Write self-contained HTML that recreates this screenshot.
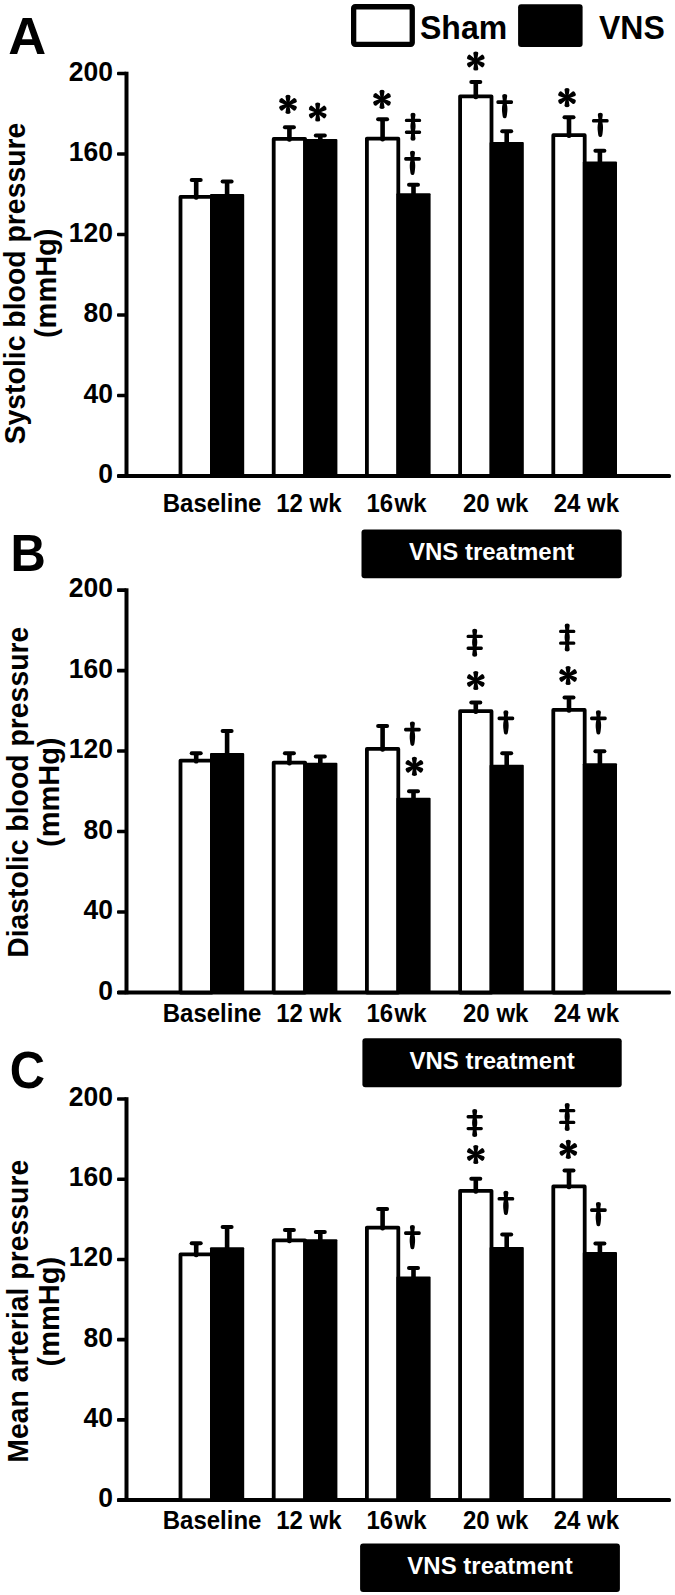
<!DOCTYPE html><html><head><meta charset="utf-8"><style>html,body{margin:0;padding:0;background:#fff;overflow:hidden}svg{display:block}</style></head><body><svg width="675" height="1595" viewBox="0 0 675 1595">
<rect width="675" height="1595" fill="#fff"/>
<rect x="353.65" y="6.75" width="58.6" height="37.6" rx="1.5" fill="none" stroke="#000" stroke-width="5.3"/>
<text transform="translate(420,39.3) scale(1,1.06)" font-family='"Liberation Sans", sans-serif' font-weight="bold" font-size="32">Sham</text>
<rect x="518.1" y="4.3" width="64.5" height="42.8" rx="3" fill="#000"/>
<text transform="translate(599,39) scale(1,1.04)" font-family='"Liberation Sans", sans-serif' font-weight="bold" font-size="32">VNS</text>
<text transform="translate(8.3,53.7) scale(1.02,1)" font-family='"Liberation Sans", sans-serif' font-weight="bold" font-size="51.5">A</text>
<rect x="124.5" y="71.7" width="4" height="406.1" fill="#000"/>
<rect x="117" y="474" width="554" height="4" rx="1.5" fill="#000"/>
<rect x="117" y="474.2" width="9.5" height="3.6" rx="1" fill="#000"/>
<text transform="translate(113,483.0) scale(1,1.07)" text-anchor="end" font-family='"Liberation Sans", sans-serif' font-weight="bold" font-size="26.5">0</text>
<rect x="117" y="393.7" width="9.5" height="3.6" rx="1" fill="#000"/>
<text transform="translate(113,402.5) scale(1,1.07)" text-anchor="end" font-family='"Liberation Sans", sans-serif' font-weight="bold" font-size="26.5">40</text>
<rect x="117" y="313.2" width="9.5" height="3.6" rx="1" fill="#000"/>
<text transform="translate(113,322.0) scale(1,1.07)" text-anchor="end" font-family='"Liberation Sans", sans-serif' font-weight="bold" font-size="26.5">80</text>
<rect x="117" y="232.7" width="9.5" height="3.6" rx="1" fill="#000"/>
<text transform="translate(113,241.5) scale(1,1.07)" text-anchor="end" font-family='"Liberation Sans", sans-serif' font-weight="bold" font-size="26.5">120</text>
<rect x="117" y="152.2" width="9.5" height="3.6" rx="1" fill="#000"/>
<text transform="translate(113,161.0) scale(1,1.07)" text-anchor="end" font-family='"Liberation Sans", sans-serif' font-weight="bold" font-size="26.5">160</text>
<rect x="117" y="71.7" width="9.5" height="3.6" rx="1" fill="#000"/>
<text transform="translate(113,80.5) scale(1,1.07)" text-anchor="end" font-family='"Liberation Sans", sans-serif' font-weight="bold" font-size="26.5">200</text>
<rect x="180.50" y="196.90" width="31.40" height="279.10" fill="#fff" stroke="#000" stroke-width="3.8" stroke-linejoin="round"/>
<rect x="193.90" y="180.00" width="4.6" height="19.80" rx="2" fill="#000"/>
<rect x="189.70" y="178.00" width="13" height="4" rx="2" fill="#000"/>
<rect x="210.00" y="194.00" width="34.2" height="282.00" rx="1" fill="#000"/>
<rect x="224.80" y="181.60" width="4.6" height="13.40" fill="#000"/>
<rect x="220.60" y="179.60" width="13" height="4" rx="2" fill="#000"/>
<rect x="273.70" y="138.90" width="31.40" height="337.10" fill="#fff" stroke="#000" stroke-width="3.8" stroke-linejoin="round"/>
<rect x="287.10" y="127.20" width="4.6" height="14.60" rx="2" fill="#000"/>
<rect x="282.90" y="125.20" width="13" height="4" rx="2" fill="#000"/>
<rect x="303.20" y="139.00" width="34.2" height="337.00" rx="1" fill="#000"/>
<rect x="318.00" y="135.60" width="4.6" height="4.40" fill="#000"/>
<rect x="313.80" y="133.60" width="13" height="4" rx="2" fill="#000"/>
<rect x="366.90" y="138.60" width="31.40" height="337.40" fill="#fff" stroke="#000" stroke-width="3.8" stroke-linejoin="round"/>
<rect x="380.30" y="119.20" width="4.6" height="22.30" rx="2" fill="#000"/>
<rect x="376.10" y="117.20" width="13" height="4" rx="2" fill="#000"/>
<rect x="396.40" y="193.30" width="34.2" height="282.70" rx="1" fill="#000"/>
<rect x="411.20" y="184.70" width="4.6" height="9.60" fill="#000"/>
<rect x="407.00" y="182.70" width="13" height="4" rx="2" fill="#000"/>
<rect x="460.10" y="96.30" width="31.40" height="379.70" fill="#fff" stroke="#000" stroke-width="3.8" stroke-linejoin="round"/>
<rect x="473.50" y="81.90" width="4.6" height="17.30" rx="2" fill="#000"/>
<rect x="469.30" y="79.90" width="13" height="4" rx="2" fill="#000"/>
<rect x="489.60" y="142.00" width="34.2" height="334.00" rx="1" fill="#000"/>
<rect x="504.40" y="131.20" width="4.6" height="11.80" fill="#000"/>
<rect x="500.20" y="129.20" width="13" height="4" rx="2" fill="#000"/>
<rect x="553.30" y="135.20" width="31.40" height="340.80" fill="#fff" stroke="#000" stroke-width="3.8" stroke-linejoin="round"/>
<rect x="566.70" y="117.30" width="4.6" height="20.80" rx="2" fill="#000"/>
<rect x="562.50" y="115.30" width="13" height="4" rx="2" fill="#000"/>
<rect x="582.80" y="161.60" width="34.2" height="314.40" rx="1" fill="#000"/>
<rect x="597.60" y="150.70" width="4.6" height="11.90" fill="#000"/>
<rect x="593.40" y="148.70" width="13" height="4" rx="2" fill="#000"/>
<g transform="translate(288.00,104.30) scale(1.0)"><path d="M-1.25,0 L-2.5,-7.9 Q-2.6,-9.6 0,-9.6 Q2.6,-9.6 2.5,-7.9 L1.25,0 Z" transform="rotate(0)"/><path d="M-1.25,0 L-2.5,-7.9 Q-2.6,-9.6 0,-9.6 Q2.6,-9.6 2.5,-7.9 L1.25,0 Z" transform="rotate(60)"/><path d="M-1.25,0 L-2.5,-7.9 Q-2.6,-9.6 0,-9.6 Q2.6,-9.6 2.5,-7.9 L1.25,0 Z" transform="rotate(120)"/><path d="M-1.25,0 L-2.5,-7.9 Q-2.6,-9.6 0,-9.6 Q2.6,-9.6 2.5,-7.9 L1.25,0 Z" transform="rotate(180)"/><path d="M-1.25,0 L-2.5,-7.9 Q-2.6,-9.6 0,-9.6 Q2.6,-9.6 2.5,-7.9 L1.25,0 Z" transform="rotate(240)"/><path d="M-1.25,0 L-2.5,-7.9 Q-2.6,-9.6 0,-9.6 Q2.6,-9.6 2.5,-7.9 L1.25,0 Z" transform="rotate(300)"/><circle r="1.9"/></g>
<g transform="translate(317.70,112.00) scale(1.0)"><path d="M-1.25,0 L-2.5,-7.9 Q-2.6,-9.6 0,-9.6 Q2.6,-9.6 2.5,-7.9 L1.25,0 Z" transform="rotate(0)"/><path d="M-1.25,0 L-2.5,-7.9 Q-2.6,-9.6 0,-9.6 Q2.6,-9.6 2.5,-7.9 L1.25,0 Z" transform="rotate(60)"/><path d="M-1.25,0 L-2.5,-7.9 Q-2.6,-9.6 0,-9.6 Q2.6,-9.6 2.5,-7.9 L1.25,0 Z" transform="rotate(120)"/><path d="M-1.25,0 L-2.5,-7.9 Q-2.6,-9.6 0,-9.6 Q2.6,-9.6 2.5,-7.9 L1.25,0 Z" transform="rotate(180)"/><path d="M-1.25,0 L-2.5,-7.9 Q-2.6,-9.6 0,-9.6 Q2.6,-9.6 2.5,-7.9 L1.25,0 Z" transform="rotate(240)"/><path d="M-1.25,0 L-2.5,-7.9 Q-2.6,-9.6 0,-9.6 Q2.6,-9.6 2.5,-7.9 L1.25,0 Z" transform="rotate(300)"/><circle r="1.9"/></g>
<g transform="translate(382.00,99.40) scale(1.0)"><path d="M-1.25,0 L-2.5,-7.9 Q-2.6,-9.6 0,-9.6 Q2.6,-9.6 2.5,-7.9 L1.25,0 Z" transform="rotate(0)"/><path d="M-1.25,0 L-2.5,-7.9 Q-2.6,-9.6 0,-9.6 Q2.6,-9.6 2.5,-7.9 L1.25,0 Z" transform="rotate(60)"/><path d="M-1.25,0 L-2.5,-7.9 Q-2.6,-9.6 0,-9.6 Q2.6,-9.6 2.5,-7.9 L1.25,0 Z" transform="rotate(120)"/><path d="M-1.25,0 L-2.5,-7.9 Q-2.6,-9.6 0,-9.6 Q2.6,-9.6 2.5,-7.9 L1.25,0 Z" transform="rotate(180)"/><path d="M-1.25,0 L-2.5,-7.9 Q-2.6,-9.6 0,-9.6 Q2.6,-9.6 2.5,-7.9 L1.25,0 Z" transform="rotate(240)"/><path d="M-1.25,0 L-2.5,-7.9 Q-2.6,-9.6 0,-9.6 Q2.6,-9.6 2.5,-7.9 L1.25,0 Z" transform="rotate(300)"/><circle r="1.9"/></g>
<path transform="translate(413.00,112.70)" d="M-2.5,2 Q-2.6,0 0,0 Q2.6,0 2.5,2 L1.9,6.1 L6.7,6.1 Q8.2,6.1 8.2,7.8 Q8.2,9.4 6.7,9.4 L2,9.4 C2.8,11.5 2.8,15.5 2,17.9 L6.7,17.9 Q8.2,17.9 8.2,19.6 Q8.2,21.2 6.7,21.2 L1.9,21.2 L2.5,26 Q2.6,28 0,28 Q-2.6,28 -2.5,26 L-1.9,21.2 L-6.7,21.2 Q-8.2,21.2 -8.2,19.6 Q-8.2,17.9 -6.7,17.9 L-2,17.9 C-2.8,15.5 -2.8,11.5 -2,9.4 L-6.7,9.4 Q-8.2,9.4 -8.2,7.8 Q-8.2,6.1 -6.7,6.1 L-1.9,6.1 Z"/>
<path transform="translate(412.50,150.80)" d="M-2.5,2 Q-2.6,0 0,0 Q2.6,0 2.5,2 L1.9,6.2 L6.9,6.2 Q8.4,6.2 8.4,8 Q8.4,9.9 6.9,9.9 L2.1,9.9 C2.9,13 2.9,16 2.4,19.5 C2.0,23 1.8,24.3 0,24.3 C-1.8,24.3 -2.0,23 -2.4,19.5 C-2.9,16 -2.9,13 -2.1,9.9 L-6.9,9.9 Q-8.4,9.9 -8.4,8 Q-8.4,6.2 -6.9,6.2 L-1.9,6.2 Z"/>
<g transform="translate(475.80,61.00) scale(1.0)"><path d="M-1.25,0 L-2.5,-7.9 Q-2.6,-9.6 0,-9.6 Q2.6,-9.6 2.5,-7.9 L1.25,0 Z" transform="rotate(0)"/><path d="M-1.25,0 L-2.5,-7.9 Q-2.6,-9.6 0,-9.6 Q2.6,-9.6 2.5,-7.9 L1.25,0 Z" transform="rotate(60)"/><path d="M-1.25,0 L-2.5,-7.9 Q-2.6,-9.6 0,-9.6 Q2.6,-9.6 2.5,-7.9 L1.25,0 Z" transform="rotate(120)"/><path d="M-1.25,0 L-2.5,-7.9 Q-2.6,-9.6 0,-9.6 Q2.6,-9.6 2.5,-7.9 L1.25,0 Z" transform="rotate(180)"/><path d="M-1.25,0 L-2.5,-7.9 Q-2.6,-9.6 0,-9.6 Q2.6,-9.6 2.5,-7.9 L1.25,0 Z" transform="rotate(240)"/><path d="M-1.25,0 L-2.5,-7.9 Q-2.6,-9.6 0,-9.6 Q2.6,-9.6 2.5,-7.9 L1.25,0 Z" transform="rotate(300)"/><circle r="1.9"/></g>
<path transform="translate(504.70,94.00)" d="M-2.5,2 Q-2.6,0 0,0 Q2.6,0 2.5,2 L1.9,6.2 L6.9,6.2 Q8.4,6.2 8.4,8 Q8.4,9.9 6.9,9.9 L2.1,9.9 C2.9,13 2.9,16 2.4,19.5 C2.0,23 1.8,24.3 0,24.3 C-1.8,24.3 -2.0,23 -2.4,19.5 C-2.9,16 -2.9,13 -2.1,9.9 L-6.9,9.9 Q-8.4,9.9 -8.4,8 Q-8.4,6.2 -6.9,6.2 L-1.9,6.2 Z"/>
<g transform="translate(567.00,97.70) scale(1.0)"><path d="M-1.25,0 L-2.5,-7.9 Q-2.6,-9.6 0,-9.6 Q2.6,-9.6 2.5,-7.9 L1.25,0 Z" transform="rotate(0)"/><path d="M-1.25,0 L-2.5,-7.9 Q-2.6,-9.6 0,-9.6 Q2.6,-9.6 2.5,-7.9 L1.25,0 Z" transform="rotate(60)"/><path d="M-1.25,0 L-2.5,-7.9 Q-2.6,-9.6 0,-9.6 Q2.6,-9.6 2.5,-7.9 L1.25,0 Z" transform="rotate(120)"/><path d="M-1.25,0 L-2.5,-7.9 Q-2.6,-9.6 0,-9.6 Q2.6,-9.6 2.5,-7.9 L1.25,0 Z" transform="rotate(180)"/><path d="M-1.25,0 L-2.5,-7.9 Q-2.6,-9.6 0,-9.6 Q2.6,-9.6 2.5,-7.9 L1.25,0 Z" transform="rotate(240)"/><path d="M-1.25,0 L-2.5,-7.9 Q-2.6,-9.6 0,-9.6 Q2.6,-9.6 2.5,-7.9 L1.25,0 Z" transform="rotate(300)"/><circle r="1.9"/></g>
<path transform="translate(600.30,112.70)" d="M-2.5,2 Q-2.6,0 0,0 Q2.6,0 2.5,2 L1.9,6.2 L6.9,6.2 Q8.4,6.2 8.4,8 Q8.4,9.9 6.9,9.9 L2.1,9.9 C2.9,13 2.9,16 2.4,19.5 C2.0,23 1.8,24.3 0,24.3 C-1.8,24.3 -2.0,23 -2.4,19.5 C-2.9,16 -2.9,13 -2.1,9.9 L-6.9,9.9 Q-8.4,9.9 -8.4,8 Q-8.4,6.2 -6.9,6.2 L-1.9,6.2 Z"/>
<text transform="translate(25,283.5) rotate(-90) scale(0.979,1)" text-anchor="middle" font-family='"Liberation Sans", sans-serif' font-weight="bold" font-size="29">Systolic blood pressure</text>
<text transform="translate(56,283.3) rotate(-90)" text-anchor="middle" font-family='"Liberation Sans", sans-serif' font-weight="bold" font-size="29">(mmHg)</text>
<text transform="translate(212.1,511.5) scale(1,1.055)" text-anchor="middle" font-family='"Liberation Sans", sans-serif' font-weight="bold" font-size="24">Baseline</text>
<text transform="translate(308.9,511.5) scale(1,1.055)" text-anchor="middle" font-family='"Liberation Sans", sans-serif' font-weight="bold" font-size="24">12 wk</text>
<text transform="translate(396.5,511.5) scale(1,1.055)" text-anchor="middle" font-family='"Liberation Sans", sans-serif' font-weight="bold" font-size="24">16<tspan dx="1.3">wk</tspan></text>
<text transform="translate(495.7,511.5) scale(1,1.055)" text-anchor="middle" font-family='"Liberation Sans", sans-serif' font-weight="bold" font-size="24">20 wk</text>
<text transform="translate(586.4,511.5) scale(1,1.055)" text-anchor="middle" font-family='"Liberation Sans", sans-serif' font-weight="bold" font-size="24">24 wk</text>
<rect x="361.5" y="529.5" width="260.2" height="48.8" rx="3" fill="#000"/>
<text transform="translate(491.6,560) scale(1,1.03)" text-anchor="middle" fill="#fff" font-family='"Liberation Sans", sans-serif' font-weight="bold" font-size="24">VNS treatment</text>
<text transform="translate(10.600000000000001,570.5) scale(0.95,1)" font-family='"Liberation Sans", sans-serif' font-weight="bold" font-size="51.5">B</text>
<rect x="124.5" y="588.3000000000001" width="4" height="406.0" fill="#000"/>
<rect x="117" y="990.5" width="554" height="4" rx="1.5" fill="#000"/>
<rect x="117" y="990.7" width="9.5" height="3.6" rx="1" fill="#000"/>
<text transform="translate(113,999.5) scale(1,1.07)" text-anchor="end" font-family='"Liberation Sans", sans-serif' font-weight="bold" font-size="26.5">0</text>
<rect x="117" y="910.22" width="9.5" height="3.6" rx="1" fill="#000"/>
<text transform="translate(113,919.0) scale(1,1.07)" text-anchor="end" font-family='"Liberation Sans", sans-serif' font-weight="bold" font-size="26.5">40</text>
<rect x="117" y="829.74" width="9.5" height="3.6" rx="1" fill="#000"/>
<text transform="translate(113,838.5) scale(1,1.07)" text-anchor="end" font-family='"Liberation Sans", sans-serif' font-weight="bold" font-size="26.5">80</text>
<rect x="117" y="749.2600000000001" width="9.5" height="3.6" rx="1" fill="#000"/>
<text transform="translate(113,758.1) scale(1,1.07)" text-anchor="end" font-family='"Liberation Sans", sans-serif' font-weight="bold" font-size="26.5">120</text>
<rect x="117" y="668.7800000000001" width="9.5" height="3.6" rx="1" fill="#000"/>
<text transform="translate(113,677.6) scale(1,1.07)" text-anchor="end" font-family='"Liberation Sans", sans-serif' font-weight="bold" font-size="26.5">160</text>
<rect x="117" y="588.3000000000001" width="9.5" height="3.6" rx="1" fill="#000"/>
<text transform="translate(113,597.1) scale(1,1.07)" text-anchor="end" font-family='"Liberation Sans", sans-serif' font-weight="bold" font-size="26.5">200</text>
<rect x="180.50" y="760.60" width="31.40" height="231.90" fill="#fff" stroke="#000" stroke-width="3.8" stroke-linejoin="round"/>
<rect x="193.90" y="753.30" width="4.6" height="10.20" rx="2" fill="#000"/>
<rect x="189.70" y="751.30" width="13" height="4" rx="2" fill="#000"/>
<rect x="210.00" y="752.90" width="34.2" height="239.60" rx="1" fill="#000"/>
<rect x="224.80" y="730.90" width="4.6" height="23.00" fill="#000"/>
<rect x="220.60" y="728.90" width="13" height="4" rx="2" fill="#000"/>
<rect x="273.70" y="762.60" width="31.40" height="229.90" fill="#fff" stroke="#000" stroke-width="3.8" stroke-linejoin="round"/>
<rect x="287.10" y="753.30" width="4.6" height="12.20" rx="2" fill="#000"/>
<rect x="282.90" y="751.30" width="13" height="4" rx="2" fill="#000"/>
<rect x="303.20" y="762.70" width="34.2" height="229.80" rx="1" fill="#000"/>
<rect x="318.00" y="756.40" width="4.6" height="7.30" fill="#000"/>
<rect x="313.80" y="754.40" width="13" height="4" rx="2" fill="#000"/>
<rect x="366.90" y="748.90" width="31.40" height="243.60" fill="#fff" stroke="#000" stroke-width="3.8" stroke-linejoin="round"/>
<rect x="380.30" y="726.00" width="4.6" height="25.80" rx="2" fill="#000"/>
<rect x="376.10" y="724.00" width="13" height="4" rx="2" fill="#000"/>
<rect x="396.40" y="797.70" width="34.2" height="194.80" rx="1" fill="#000"/>
<rect x="411.20" y="791.30" width="4.6" height="7.40" fill="#000"/>
<rect x="407.00" y="789.30" width="13" height="4" rx="2" fill="#000"/>
<rect x="460.10" y="711.20" width="31.40" height="281.30" fill="#fff" stroke="#000" stroke-width="3.8" stroke-linejoin="round"/>
<rect x="473.50" y="702.40" width="4.6" height="11.70" rx="2" fill="#000"/>
<rect x="469.30" y="700.40" width="13" height="4" rx="2" fill="#000"/>
<rect x="489.60" y="764.70" width="34.2" height="227.80" rx="1" fill="#000"/>
<rect x="504.40" y="753.30" width="4.6" height="12.40" fill="#000"/>
<rect x="500.20" y="751.30" width="13" height="4" rx="2" fill="#000"/>
<rect x="553.30" y="709.90" width="31.40" height="282.60" fill="#fff" stroke="#000" stroke-width="3.8" stroke-linejoin="round"/>
<rect x="566.70" y="697.50" width="4.6" height="15.30" rx="2" fill="#000"/>
<rect x="562.50" y="695.50" width="13" height="4" rx="2" fill="#000"/>
<rect x="582.80" y="763.30" width="34.2" height="229.20" rx="1" fill="#000"/>
<rect x="597.60" y="751.30" width="4.6" height="13.00" fill="#000"/>
<rect x="593.40" y="749.30" width="13" height="4" rx="2" fill="#000"/>
<path transform="translate(412.40,721.60)" d="M-2.5,2 Q-2.6,0 0,0 Q2.6,0 2.5,2 L1.9,6.2 L6.9,6.2 Q8.4,6.2 8.4,8 Q8.4,9.9 6.9,9.9 L2.1,9.9 C2.9,13 2.9,16 2.4,19.5 C2.0,23 1.8,24.3 0,24.3 C-1.8,24.3 -2.0,23 -2.4,19.5 C-2.9,16 -2.9,13 -2.1,9.9 L-6.9,9.9 Q-8.4,9.9 -8.4,8 Q-8.4,6.2 -6.9,6.2 L-1.9,6.2 Z"/>
<g transform="translate(414.40,766.30) scale(1.0)"><path d="M-1.25,0 L-2.5,-7.9 Q-2.6,-9.6 0,-9.6 Q2.6,-9.6 2.5,-7.9 L1.25,0 Z" transform="rotate(0)"/><path d="M-1.25,0 L-2.5,-7.9 Q-2.6,-9.6 0,-9.6 Q2.6,-9.6 2.5,-7.9 L1.25,0 Z" transform="rotate(60)"/><path d="M-1.25,0 L-2.5,-7.9 Q-2.6,-9.6 0,-9.6 Q2.6,-9.6 2.5,-7.9 L1.25,0 Z" transform="rotate(120)"/><path d="M-1.25,0 L-2.5,-7.9 Q-2.6,-9.6 0,-9.6 Q2.6,-9.6 2.5,-7.9 L1.25,0 Z" transform="rotate(180)"/><path d="M-1.25,0 L-2.5,-7.9 Q-2.6,-9.6 0,-9.6 Q2.6,-9.6 2.5,-7.9 L1.25,0 Z" transform="rotate(240)"/><path d="M-1.25,0 L-2.5,-7.9 Q-2.6,-9.6 0,-9.6 Q2.6,-9.6 2.5,-7.9 L1.25,0 Z" transform="rotate(300)"/><circle r="1.9"/></g>
<path transform="translate(474.70,628.70)" d="M-2.5,2 Q-2.6,0 0,0 Q2.6,0 2.5,2 L1.9,6.1 L6.7,6.1 Q8.2,6.1 8.2,7.8 Q8.2,9.4 6.7,9.4 L2,9.4 C2.8,11.5 2.8,15.5 2,17.9 L6.7,17.9 Q8.2,17.9 8.2,19.6 Q8.2,21.2 6.7,21.2 L1.9,21.2 L2.5,26 Q2.6,28 0,28 Q-2.6,28 -2.5,26 L-1.9,21.2 L-6.7,21.2 Q-8.2,21.2 -8.2,19.6 Q-8.2,17.9 -6.7,17.9 L-2,17.9 C-2.8,15.5 -2.8,11.5 -2,9.4 L-6.7,9.4 Q-8.2,9.4 -8.2,7.8 Q-8.2,6.1 -6.7,6.1 L-1.9,6.1 Z"/>
<g transform="translate(475.80,680.50) scale(1.0)"><path d="M-1.25,0 L-2.5,-7.9 Q-2.6,-9.6 0,-9.6 Q2.6,-9.6 2.5,-7.9 L1.25,0 Z" transform="rotate(0)"/><path d="M-1.25,0 L-2.5,-7.9 Q-2.6,-9.6 0,-9.6 Q2.6,-9.6 2.5,-7.9 L1.25,0 Z" transform="rotate(60)"/><path d="M-1.25,0 L-2.5,-7.9 Q-2.6,-9.6 0,-9.6 Q2.6,-9.6 2.5,-7.9 L1.25,0 Z" transform="rotate(120)"/><path d="M-1.25,0 L-2.5,-7.9 Q-2.6,-9.6 0,-9.6 Q2.6,-9.6 2.5,-7.9 L1.25,0 Z" transform="rotate(180)"/><path d="M-1.25,0 L-2.5,-7.9 Q-2.6,-9.6 0,-9.6 Q2.6,-9.6 2.5,-7.9 L1.25,0 Z" transform="rotate(240)"/><path d="M-1.25,0 L-2.5,-7.9 Q-2.6,-9.6 0,-9.6 Q2.6,-9.6 2.5,-7.9 L1.25,0 Z" transform="rotate(300)"/><circle r="1.9"/></g>
<path transform="translate(505.90,710.30)" d="M-2.5,2 Q-2.6,0 0,0 Q2.6,0 2.5,2 L1.9,6.2 L6.9,6.2 Q8.4,6.2 8.4,8 Q8.4,9.9 6.9,9.9 L2.1,9.9 C2.9,13 2.9,16 2.4,19.5 C2.0,23 1.8,24.3 0,24.3 C-1.8,24.3 -2.0,23 -2.4,19.5 C-2.9,16 -2.9,13 -2.1,9.9 L-6.9,9.9 Q-8.4,9.9 -8.4,8 Q-8.4,6.2 -6.9,6.2 L-1.9,6.2 Z"/>
<path transform="translate(567.20,623.60)" d="M-2.5,2 Q-2.6,0 0,0 Q2.6,0 2.5,2 L1.9,6.1 L6.7,6.1 Q8.2,6.1 8.2,7.8 Q8.2,9.4 6.7,9.4 L2,9.4 C2.8,11.5 2.8,15.5 2,17.9 L6.7,17.9 Q8.2,17.9 8.2,19.6 Q8.2,21.2 6.7,21.2 L1.9,21.2 L2.5,26 Q2.6,28 0,28 Q-2.6,28 -2.5,26 L-1.9,21.2 L-6.7,21.2 Q-8.2,21.2 -8.2,19.6 Q-8.2,17.9 -6.7,17.9 L-2,17.9 C-2.8,15.5 -2.8,11.5 -2,9.4 L-6.7,9.4 Q-8.2,9.4 -8.2,7.8 Q-8.2,6.1 -6.7,6.1 L-1.9,6.1 Z"/>
<g transform="translate(568.10,675.50) scale(1.0)"><path d="M-1.25,0 L-2.5,-7.9 Q-2.6,-9.6 0,-9.6 Q2.6,-9.6 2.5,-7.9 L1.25,0 Z" transform="rotate(0)"/><path d="M-1.25,0 L-2.5,-7.9 Q-2.6,-9.6 0,-9.6 Q2.6,-9.6 2.5,-7.9 L1.25,0 Z" transform="rotate(60)"/><path d="M-1.25,0 L-2.5,-7.9 Q-2.6,-9.6 0,-9.6 Q2.6,-9.6 2.5,-7.9 L1.25,0 Z" transform="rotate(120)"/><path d="M-1.25,0 L-2.5,-7.9 Q-2.6,-9.6 0,-9.6 Q2.6,-9.6 2.5,-7.9 L1.25,0 Z" transform="rotate(180)"/><path d="M-1.25,0 L-2.5,-7.9 Q-2.6,-9.6 0,-9.6 Q2.6,-9.6 2.5,-7.9 L1.25,0 Z" transform="rotate(240)"/><path d="M-1.25,0 L-2.5,-7.9 Q-2.6,-9.6 0,-9.6 Q2.6,-9.6 2.5,-7.9 L1.25,0 Z" transform="rotate(300)"/><circle r="1.9"/></g>
<path transform="translate(598.40,710.30)" d="M-2.5,2 Q-2.6,0 0,0 Q2.6,0 2.5,2 L1.9,6.2 L6.9,6.2 Q8.4,6.2 8.4,8 Q8.4,9.9 6.9,9.9 L2.1,9.9 C2.9,13 2.9,16 2.4,19.5 C2.0,23 1.8,24.3 0,24.3 C-1.8,24.3 -2.0,23 -2.4,19.5 C-2.9,16 -2.9,13 -2.1,9.9 L-6.9,9.9 Q-8.4,9.9 -8.4,8 Q-8.4,6.2 -6.9,6.2 L-1.9,6.2 Z"/>
<text transform="translate(27.8,792.25) rotate(-90) scale(0.979,1)" text-anchor="middle" font-family='"Liberation Sans", sans-serif' font-weight="bold" font-size="29">Diastolic blood pressure</text>
<text transform="translate(58.8,792.25) rotate(-90)" text-anchor="middle" font-family='"Liberation Sans", sans-serif' font-weight="bold" font-size="29">(mmHg)</text>
<text transform="translate(212.1,1021.7) scale(1,1.055)" text-anchor="middle" font-family='"Liberation Sans", sans-serif' font-weight="bold" font-size="24">Baseline</text>
<text transform="translate(308.9,1021.7) scale(1,1.055)" text-anchor="middle" font-family='"Liberation Sans", sans-serif' font-weight="bold" font-size="24">12 wk</text>
<text transform="translate(396.5,1021.7) scale(1,1.055)" text-anchor="middle" font-family='"Liberation Sans", sans-serif' font-weight="bold" font-size="24">16<tspan dx="1.3">wk</tspan></text>
<text transform="translate(495.7,1021.7) scale(1,1.055)" text-anchor="middle" font-family='"Liberation Sans", sans-serif' font-weight="bold" font-size="24">20 wk</text>
<text transform="translate(586.4,1021.7) scale(1,1.055)" text-anchor="middle" font-family='"Liberation Sans", sans-serif' font-weight="bold" font-size="24">24 wk</text>
<rect x="362.4" y="1038.3" width="259.3" height="48.9" rx="3" fill="#000"/>
<text transform="translate(492.1,1068.9) scale(1,1.03)" text-anchor="middle" fill="#fff" font-family='"Liberation Sans", sans-serif' font-weight="bold" font-size="24">VNS treatment</text>
<text transform="translate(9.7,1088) scale(0.95,1)" font-family='"Liberation Sans", sans-serif' font-weight="bold" font-size="51.5">C</text>
<rect x="124.5" y="1097.2" width="4" height="404.69999999999993" fill="#000"/>
<rect x="117" y="1498.1" width="554" height="4" rx="1.5" fill="#000"/>
<rect x="117" y="1498.3" width="9.5" height="3.6" rx="1" fill="#000"/>
<text transform="translate(113,1507.1) scale(1,1.07)" text-anchor="end" font-family='"Liberation Sans", sans-serif' font-weight="bold" font-size="26.5">0</text>
<rect x="117" y="1418.08" width="9.5" height="3.6" rx="1" fill="#000"/>
<text transform="translate(113,1426.9) scale(1,1.07)" text-anchor="end" font-family='"Liberation Sans", sans-serif' font-weight="bold" font-size="26.5">40</text>
<rect x="117" y="1337.86" width="9.5" height="3.6" rx="1" fill="#000"/>
<text transform="translate(113,1346.7) scale(1,1.07)" text-anchor="end" font-family='"Liberation Sans", sans-serif' font-weight="bold" font-size="26.5">80</text>
<rect x="117" y="1257.64" width="9.5" height="3.6" rx="1" fill="#000"/>
<text transform="translate(113,1266.4) scale(1,1.07)" text-anchor="end" font-family='"Liberation Sans", sans-serif' font-weight="bold" font-size="26.5">120</text>
<rect x="117" y="1177.42" width="9.5" height="3.6" rx="1" fill="#000"/>
<text transform="translate(113,1186.2) scale(1,1.07)" text-anchor="end" font-family='"Liberation Sans", sans-serif' font-weight="bold" font-size="26.5">160</text>
<rect x="117" y="1097.2" width="9.5" height="3.6" rx="1" fill="#000"/>
<text transform="translate(113,1106.0) scale(1,1.07)" text-anchor="end" font-family='"Liberation Sans", sans-serif' font-weight="bold" font-size="26.5">200</text>
<rect x="180.50" y="1254.40" width="31.40" height="245.70" fill="#fff" stroke="#000" stroke-width="3.8" stroke-linejoin="round"/>
<rect x="193.90" y="1243.30" width="4.6" height="14.00" rx="2" fill="#000"/>
<rect x="189.70" y="1241.30" width="13" height="4" rx="2" fill="#000"/>
<rect x="210.00" y="1247.20" width="34.2" height="252.90" rx="1" fill="#000"/>
<rect x="224.80" y="1226.90" width="4.6" height="21.30" fill="#000"/>
<rect x="220.60" y="1224.90" width="13" height="4" rx="2" fill="#000"/>
<rect x="273.70" y="1240.30" width="31.40" height="259.80" fill="#fff" stroke="#000" stroke-width="3.8" stroke-linejoin="round"/>
<rect x="287.10" y="1229.90" width="4.6" height="13.30" rx="2" fill="#000"/>
<rect x="282.90" y="1227.90" width="13" height="4" rx="2" fill="#000"/>
<rect x="303.20" y="1239.30" width="34.2" height="260.80" rx="1" fill="#000"/>
<rect x="318.00" y="1232.00" width="4.6" height="8.30" fill="#000"/>
<rect x="313.80" y="1230.00" width="13" height="4" rx="2" fill="#000"/>
<rect x="366.90" y="1227.60" width="31.40" height="272.50" fill="#fff" stroke="#000" stroke-width="3.8" stroke-linejoin="round"/>
<rect x="380.30" y="1209.00" width="4.6" height="21.50" rx="2" fill="#000"/>
<rect x="376.10" y="1207.00" width="13" height="4" rx="2" fill="#000"/>
<rect x="396.40" y="1276.40" width="34.2" height="223.70" rx="1" fill="#000"/>
<rect x="411.20" y="1268.00" width="4.6" height="9.40" fill="#000"/>
<rect x="407.00" y="1266.00" width="13" height="4" rx="2" fill="#000"/>
<rect x="460.10" y="1190.80" width="31.40" height="309.30" fill="#fff" stroke="#000" stroke-width="3.8" stroke-linejoin="round"/>
<rect x="473.50" y="1178.70" width="4.6" height="15.00" rx="2" fill="#000"/>
<rect x="469.30" y="1176.70" width="13" height="4" rx="2" fill="#000"/>
<rect x="489.60" y="1247.00" width="34.2" height="253.10" rx="1" fill="#000"/>
<rect x="504.40" y="1234.50" width="4.6" height="13.50" fill="#000"/>
<rect x="500.20" y="1232.50" width="13" height="4" rx="2" fill="#000"/>
<rect x="553.30" y="1186.40" width="31.40" height="313.70" fill="#fff" stroke="#000" stroke-width="3.8" stroke-linejoin="round"/>
<rect x="566.70" y="1170.50" width="4.6" height="18.80" rx="2" fill="#000"/>
<rect x="562.50" y="1168.50" width="13" height="4" rx="2" fill="#000"/>
<rect x="582.80" y="1252.00" width="34.2" height="248.10" rx="1" fill="#000"/>
<rect x="597.60" y="1243.50" width="4.6" height="9.50" fill="#000"/>
<rect x="593.40" y="1241.50" width="13" height="4" rx="2" fill="#000"/>
<path transform="translate(412.40,1225.00)" d="M-2.5,2 Q-2.6,0 0,0 Q2.6,0 2.5,2 L1.9,6.2 L6.9,6.2 Q8.4,6.2 8.4,8 Q8.4,9.9 6.9,9.9 L2.1,9.9 C2.9,13 2.9,16 2.4,19.5 C2.0,23 1.8,24.3 0,24.3 C-1.8,24.3 -2.0,23 -2.4,19.5 C-2.9,16 -2.9,13 -2.1,9.9 L-6.9,9.9 Q-8.4,9.9 -8.4,8 Q-8.4,6.2 -6.9,6.2 L-1.9,6.2 Z"/>
<path transform="translate(474.70,1109.00)" d="M-2.5,2 Q-2.6,0 0,0 Q2.6,0 2.5,2 L1.9,6.1 L6.7,6.1 Q8.2,6.1 8.2,7.8 Q8.2,9.4 6.7,9.4 L2,9.4 C2.8,11.5 2.8,15.5 2,17.9 L6.7,17.9 Q8.2,17.9 8.2,19.6 Q8.2,21.2 6.7,21.2 L1.9,21.2 L2.5,26 Q2.6,28 0,28 Q-2.6,28 -2.5,26 L-1.9,21.2 L-6.7,21.2 Q-8.2,21.2 -8.2,19.6 Q-8.2,17.9 -6.7,17.9 L-2,17.9 C-2.8,15.5 -2.8,11.5 -2,9.4 L-6.7,9.4 Q-8.2,9.4 -8.2,7.8 Q-8.2,6.1 -6.7,6.1 L-1.9,6.1 Z"/>
<g transform="translate(475.80,1154.50) scale(1.0)"><path d="M-1.25,0 L-2.5,-7.9 Q-2.6,-9.6 0,-9.6 Q2.6,-9.6 2.5,-7.9 L1.25,0 Z" transform="rotate(0)"/><path d="M-1.25,0 L-2.5,-7.9 Q-2.6,-9.6 0,-9.6 Q2.6,-9.6 2.5,-7.9 L1.25,0 Z" transform="rotate(60)"/><path d="M-1.25,0 L-2.5,-7.9 Q-2.6,-9.6 0,-9.6 Q2.6,-9.6 2.5,-7.9 L1.25,0 Z" transform="rotate(120)"/><path d="M-1.25,0 L-2.5,-7.9 Q-2.6,-9.6 0,-9.6 Q2.6,-9.6 2.5,-7.9 L1.25,0 Z" transform="rotate(180)"/><path d="M-1.25,0 L-2.5,-7.9 Q-2.6,-9.6 0,-9.6 Q2.6,-9.6 2.5,-7.9 L1.25,0 Z" transform="rotate(240)"/><path d="M-1.25,0 L-2.5,-7.9 Q-2.6,-9.6 0,-9.6 Q2.6,-9.6 2.5,-7.9 L1.25,0 Z" transform="rotate(300)"/><circle r="1.9"/></g>
<path transform="translate(505.90,1190.70)" d="M-2.5,2 Q-2.6,0 0,0 Q2.6,0 2.5,2 L1.9,6.2 L6.9,6.2 Q8.4,6.2 8.4,8 Q8.4,9.9 6.9,9.9 L2.1,9.9 C2.9,13 2.9,16 2.4,19.5 C2.0,23 1.8,24.3 0,24.3 C-1.8,24.3 -2.0,23 -2.4,19.5 C-2.9,16 -2.9,13 -2.1,9.9 L-6.9,9.9 Q-8.4,9.9 -8.4,8 Q-8.4,6.2 -6.9,6.2 L-1.9,6.2 Z"/>
<path transform="translate(567.20,1102.90)" d="M-2.5,2 Q-2.6,0 0,0 Q2.6,0 2.5,2 L1.9,6.1 L6.7,6.1 Q8.2,6.1 8.2,7.8 Q8.2,9.4 6.7,9.4 L2,9.4 C2.8,11.5 2.8,15.5 2,17.9 L6.7,17.9 Q8.2,17.9 8.2,19.6 Q8.2,21.2 6.7,21.2 L1.9,21.2 L2.5,26 Q2.6,28 0,28 Q-2.6,28 -2.5,26 L-1.9,21.2 L-6.7,21.2 Q-8.2,21.2 -8.2,19.6 Q-8.2,17.9 -6.7,17.9 L-2,17.9 C-2.8,15.5 -2.8,11.5 -2,9.4 L-6.7,9.4 Q-8.2,9.4 -8.2,7.8 Q-8.2,6.1 -6.7,6.1 L-1.9,6.1 Z"/>
<g transform="translate(568.30,1149.40) scale(1.0)"><path d="M-1.25,0 L-2.5,-7.9 Q-2.6,-9.6 0,-9.6 Q2.6,-9.6 2.5,-7.9 L1.25,0 Z" transform="rotate(0)"/><path d="M-1.25,0 L-2.5,-7.9 Q-2.6,-9.6 0,-9.6 Q2.6,-9.6 2.5,-7.9 L1.25,0 Z" transform="rotate(60)"/><path d="M-1.25,0 L-2.5,-7.9 Q-2.6,-9.6 0,-9.6 Q2.6,-9.6 2.5,-7.9 L1.25,0 Z" transform="rotate(120)"/><path d="M-1.25,0 L-2.5,-7.9 Q-2.6,-9.6 0,-9.6 Q2.6,-9.6 2.5,-7.9 L1.25,0 Z" transform="rotate(180)"/><path d="M-1.25,0 L-2.5,-7.9 Q-2.6,-9.6 0,-9.6 Q2.6,-9.6 2.5,-7.9 L1.25,0 Z" transform="rotate(240)"/><path d="M-1.25,0 L-2.5,-7.9 Q-2.6,-9.6 0,-9.6 Q2.6,-9.6 2.5,-7.9 L1.25,0 Z" transform="rotate(300)"/><circle r="1.9"/></g>
<path transform="translate(598.40,1202.00)" d="M-2.5,2 Q-2.6,0 0,0 Q2.6,0 2.5,2 L1.9,6.2 L6.9,6.2 Q8.4,6.2 8.4,8 Q8.4,9.9 6.9,9.9 L2.1,9.9 C2.9,13 2.9,16 2.4,19.5 C2.0,23 1.8,24.3 0,24.3 C-1.8,24.3 -2.0,23 -2.4,19.5 C-2.9,16 -2.9,13 -2.1,9.9 L-6.9,9.9 Q-8.4,9.9 -8.4,8 Q-8.4,6.2 -6.9,6.2 L-1.9,6.2 Z"/>
<text transform="translate(27.8,1311.2) rotate(-90) scale(0.979,1)" text-anchor="middle" font-family='"Liberation Sans", sans-serif' font-weight="bold" font-size="29">Mean arterial pressure</text>
<text transform="translate(58.8,1311.7) rotate(-90)" text-anchor="middle" font-family='"Liberation Sans", sans-serif' font-weight="bold" font-size="29">(mmHg)</text>
<text transform="translate(212.1,1528.5) scale(1,1.055)" text-anchor="middle" font-family='"Liberation Sans", sans-serif' font-weight="bold" font-size="24">Baseline</text>
<text transform="translate(308.9,1528.5) scale(1,1.055)" text-anchor="middle" font-family='"Liberation Sans", sans-serif' font-weight="bold" font-size="24">12 wk</text>
<text transform="translate(396.5,1528.5) scale(1,1.055)" text-anchor="middle" font-family='"Liberation Sans", sans-serif' font-weight="bold" font-size="24">16<tspan dx="1.3">wk</tspan></text>
<text transform="translate(495.7,1528.5) scale(1,1.055)" text-anchor="middle" font-family='"Liberation Sans", sans-serif' font-weight="bold" font-size="24">20 wk</text>
<text transform="translate(586.4,1528.5) scale(1,1.055)" text-anchor="middle" font-family='"Liberation Sans", sans-serif' font-weight="bold" font-size="24">24 wk</text>
<rect x="360.1" y="1543.4" width="259.8" height="48.6" rx="3" fill="#000"/>
<text transform="translate(490.0,1573.6) scale(1,1.03)" text-anchor="middle" fill="#fff" font-family='"Liberation Sans", sans-serif' font-weight="bold" font-size="24">VNS treatment</text>
</svg></body></html>
